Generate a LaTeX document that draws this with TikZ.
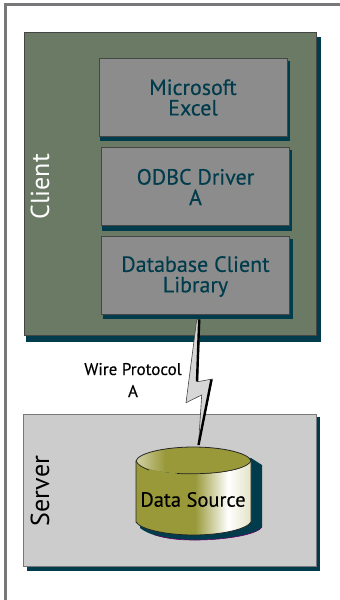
\documentclass[tikz,border=0pt]{standalone}
\usepackage{fontspec}
\setmainfont{PT Sans}
\usetikzlibrary{calc}
\definecolor{shadowc}{RGB}{0,60,76}
\definecolor{clientc}{RGB}{106,122,101}
\definecolor{boxc}{RGB}{140,140,140}
\definecolor{serverc}{RGB}{204,204,204}
\definecolor{olive}{RGB}{153,153,58}
\definecolor{cream}{RGB}{226,226,196}
\definecolor{framec}{RGB}{120,120,122}
\definecolor{edgec}{RGB}{70,70,70}
\definecolor{boltc}{RGB}{215,215,215}
\tikzset{
  panel/.style={draw=edgec,line width=0.9pt,minimum width=#1,inner sep=0pt,outer sep=0pt,anchor=north west},
  boxlabel/.style={text=shadowc,font=\fontsize{22}{20.5}\selectfont\addfontfeature{FakeBold=0.3},align=center},
  sidelabel/.style={font=\fontsize{26}{26}\selectfont,rotate=90},
  wire/.style={font=\fontsize{17}{22}\selectfont\addfontfeature{FakeBold=0.2},align=center}
}
\begin{document}
\begin{tikzpicture}[x=1pt,y=-1pt]
\useasboundingbox (0,0) rectangle (340,600);
% outer frame
\fill[white] (0,0) rectangle (340,600);
\draw[framec,line width=3pt] (5.5,600) -- (5.5,4.5) -- (340,4.5);
% client
\fill[shadowc] (26,37) rectangle (321,342);
\node[panel=292.5pt,minimum height=303pt,fill=clientc] (client) at (24,32) {};
\node[sidelabel,text=white] (clientl) at (40,187) {Client};
% boxes
\fill[shadowc] (100,61) rectangle (290,141);
\node[panel=188pt,minimum height=78pt,fill=boxc] (excel) at (99,58) {};
\node[boxlabel] (excell) at (193,97.5) {Microsoft\\Excel};
\fill[shadowc] (102,150) rectangle (292,231);
\node[panel=188pt,minimum height=78pt,fill=boxc] (odbc) at (101,147) {};
\node[boxlabel] (odbcl) at (195.5,187) {ODBC Driver\\A};
\fill[shadowc] (103,239) rectangle (293,319);
\node[panel=188.5pt,minimum height=78.5pt,fill=boxc] (lib) at (101,236) {};
\node[boxlabel] (libl) at (195.5,276.5) {Database Client\\Library};
% server
\fill[shadowc] (27,417) rectangle (320,571);
\node[panel=292.5pt,minimum height=152pt,fill=serverc,draw=framec] (server) at (23.5,414) {};
\node[sidelabel,text=black] (serverl) at (40,491) {Server};
% cylinder shadow
\fill[shadowc] (140,470) -- (251,458) -- (262,465) -- (262,527)
  .. controls (258,534) and (228,540) .. (195,540)
  .. controls (170,540) and (150,536) .. (140,528) -- cycle;
\draw[black!20!violet,line width=0.6pt] (262,527) .. controls (258,534) and (228,540) .. (195,540) .. controls (180,540) and (168,539) .. (155,535);
% cylinder body
\begin{scope}
  \clip (136,461) -- (136,522)
  .. controls (140,529) and (165,535) .. (193.5,535)
  .. controls (222,535) and (247,529) .. (251,522) -- (251,461)
  .. controls (247,469) and (222,474) .. (193.5,474)
  .. controls (165,474) and (140,469) .. (136,461) -- cycle;
  \fill[olive] (136,440) rectangle (196,540);
  \shade[left color=olive,right color=white] (195,440) rectangle (228,540);
  \shade[left color=white,right color=cream] (228,440) rectangle (252,540);
\end{scope}
% cylinder top
\begin{scope}
  \clip (136,461) .. controls (138,453) and (165,447) .. (193.5,447)
  .. controls (222,447) and (249,453) .. (251,461)
  .. controls (247,469) and (222,474) .. (193.5,474)
  .. controls (165,474) and (140,469) .. (136,461) -- cycle;
  \fill[olive] (136,440) rectangle (252,480);
  \shade[left color=olive!45!white,right color=olive] (136,440) rectangle (165,480);
\end{scope}
\draw[black!85,line width=0.8pt] (136,522) -- (136,461)
  .. controls (138,453) and (165,447) .. (193.5,447)
  .. controls (222,447) and (249,453) .. (251,461) -- (251,522)
  .. controls (247,529) and (222,535) .. (193.5,535)
  .. controls (165,535) and (140,529) .. (136,522);
\draw[black!85,line width=0.7pt] (136,461) .. controls (138,465) and (143,468) .. (149,470);
\draw[black!85,line width=0.7pt] (177,473.5) .. controls (215,475) and (246,470) .. (251,461);
\node[font=\fontsize{20.5}{21}\selectfont\addfontfeature{FakeBold=0.3},text=black] (source) at (193,499.5) {Data Source};
\coordinate (sourcetop) at (198.5,445);
% wire label
\node[wire] (wirel) at (133,380) {Wire Protocol\\A};
% bolt
\coordinate (bolttop) at (198.5,319.5);
\fill[boltc,draw=edgec,line width=0.6pt] (bolttop) ++(-1.8,0.5) -- (186,402.7) -- (201.7,395) -- (sourcetop)
  -- (212.3,379) -- (197.7,381.7) -- ($(bolttop)+(1.5,0)$) -- cycle;
\draw[black,line width=2.4pt,line join=round] ($(bolttop)+(0.7,0)$) -- (197,381.5);
\draw[black,line width=2.4pt,line join=round] (211.5,379.5) -- (sourcetop);
\end{tikzpicture}
\end{document}
